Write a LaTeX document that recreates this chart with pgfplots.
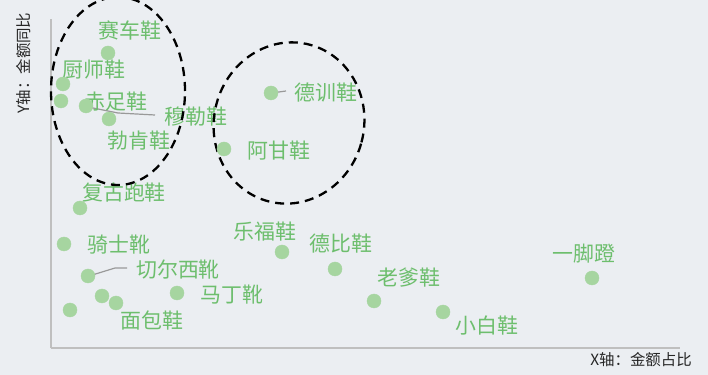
\documentclass[border=0pt]{standalone}
\usepackage{pgfplots}
\pgfplotsset{compat=1.18}
\usepackage{fontspec}
\newfontfamily\cjk{Noto Sans CJK SC}
\definecolor{bgc}{HTML}{EBEEF2}
\definecolor{ptc}{HTML}{A6D5A0}
\definecolor{lbc}{HTML}{6DBE6D}
\definecolor{axc}{HTML}{BFBFBF}
\tikzset{lbl/.style={font=\cjk\fontsize{21}{21}\selectfont, text=lbc, inner sep=0pt}}

\begin{document}
\begin{tikzpicture}
\fill[bgc] (0,0) rectangle (708bp,375bp);
\useasboundingbox (0,0) rectangle (708bp,375bp);
\begin{axis}[
  at={(51bp,27bp)}, anchor=south west,
  scale only axis,
  width=629bp, height=329bp,
  xmin=51, xmax=680, ymin=27, ymax=356,
  axis lines*=left,
  axis line style={axc, line width=1.6bp, -},
  xtick=\empty, ytick=\empty,
  clip=false,
]
% points (x = pixel x, y = 375 - pixel y)
\addplot[only marks, mark=*, mark size=7bp, color=ptc, mark options={draw=none}] coordinates {
  (108,322) (63,291) (61,274) (86,269) (109,256)
  (271,282) (224,226) (80,167) (64,131) (88,99)
  (102,79) (116,72) (70,65) (177,82) (282,123)
  (335,106) (374,74) (443,63) (592,97)
};
% leader lines
\draw[gray!80, line width=1.2bp] (axis cs:88,268) -- (axis cs:118,262) -- (axis cs:155,260);
\draw[gray!80, line width=1.2bp] (axis cs:272,282) -- (axis cs:286,284);
\draw[gray!80, line width=1.2bp] (axis cs:89,99) -- (axis cs:115,107) -- (axis cs:127,107);
% labels
\node[lbl] at (axis cs:130,345) {赛车鞋};
\node[lbl] at (axis cs:94,305) {厨师鞋};
\node[lbl] at (axis cs:116,273) {赤足鞋};
\node[lbl] at (axis cs:196,258) {穆勒鞋};
\node[lbl] at (axis cs:139,234) {勃肯鞋};
\node[lbl] at (axis cs:326,282) {德训鞋};
\node[lbl] at (axis cs:279,224) {阿甘鞋};
\node[lbl] at (axis cs:124,182) {复古跑鞋};
\node[lbl] at (axis cs:119,130) {骑士靴};
\node[lbl] at (axis cs:178,105) {切尔西靴};
\node[lbl] at (axis cs:232,80) {马丁靴};
\node[lbl] at (axis cs:152,54) {面包鞋};
\node[lbl] at (axis cs:265,143) {乐福鞋};
\node[lbl] at (axis cs:341,131) {德比鞋};
\node[lbl] at (axis cs:409,97) {老爹鞋};
\node[lbl] at (axis cs:487,49) {小白鞋};
\node[lbl] at (axis cs:584,121) {一脚蹬};
% dashed ellipses
\draw[black, line width=2.3bp, dash pattern=on 9bp off 6bp] (axis cs:118,284) ellipse [x radius=67bp, y radius=94bp];
\draw[black, line width=2.3bp, dash pattern=on 9bp off 6bp, rotate around={-15:(axis cs:289,252)}] (axis cs:289,252) ellipse [x radius=75bp, y radius=81bp];
\end{axis}
\node[font=\cjk\fontsize{15.5}{15.5}\selectfont, text=black!85, rotate=90, inner sep=0pt] at (24bp,312bp) {Y轴：金额同比};
\node[font=\cjk\fontsize{15.5}{15.5}\selectfont, text=black!85, anchor=east, inner sep=0pt] at (692bp,15bp) {X轴：金额占比};
\end{tikzpicture}
\end{document}
